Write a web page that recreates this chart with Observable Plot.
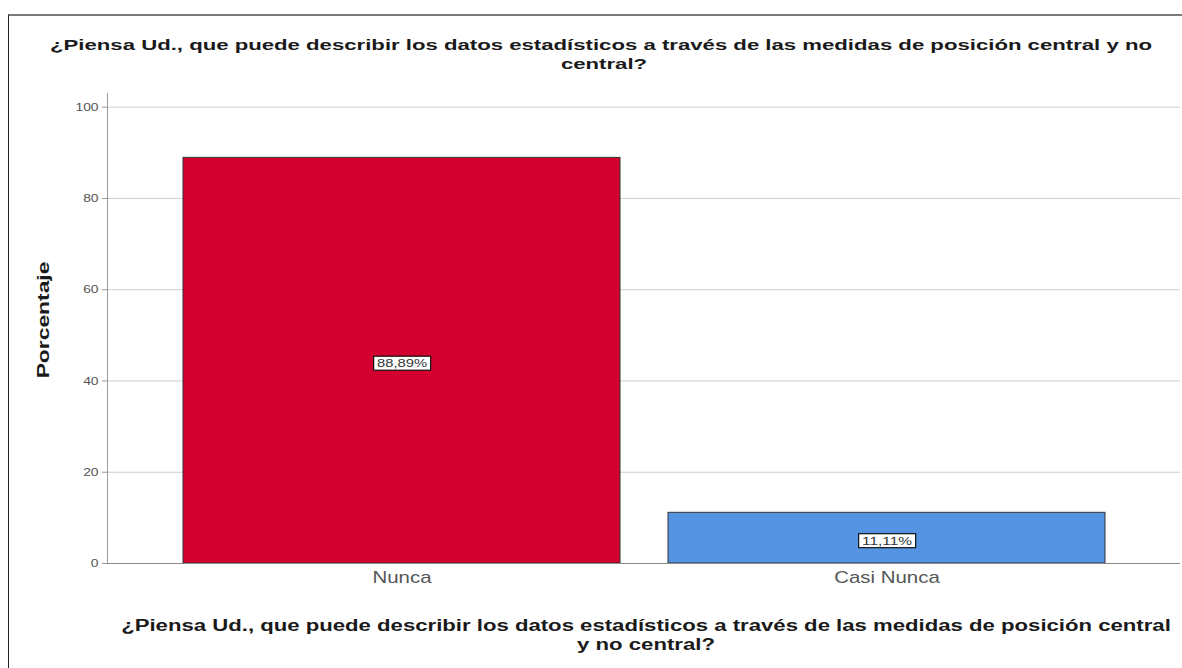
<!DOCTYPE html>
<html>
<head>
<meta charset="utf-8">
<script src="https://cdn.jsdelivr.net/npm/d3@7"></script>
<script src="https://cdn.jsdelivr.net/npm/@observablehq/plot@0.6"></script>
<style>
  html, body { margin: 0; padding: 0; background: #fff; }
  #wrap { position: relative; width: 1182px; height: 668px; overflow: hidden; font-family: "Liberation Sans", Arial, sans-serif; }
  #border { position: absolute; left: 8px; top: 14px; width: 1180px; height: 660px; border-top: 2px solid #7a7a7a; border-left: 1px solid #222; box-sizing: border-box; }
  .t { position: absolute; white-space: nowrap; font-weight: bold; color: #1a1a1a; font-size: 15px; line-height: 18px; transform-origin: center center; }
  #chart { position: absolute; left: 0; top: 0; }
</style>
</head>
<body>
<div id="wrap">
  <div id="border"></div>
  <div id="chart"></div>
</div>
<script>
// ---- data ----
const categories = ["Nunca", "Casi Nunca"];
const percentages = [88.89, 11.11];
const barColors = ["#d3002f", "#5594e2"];
const yTicks = [0, 20, 40, 60, 80, 100];
const titleLines = ["¿Piensa Ud., que puede describir los datos estadísticos a través de las medidas de posición central y no", "central?"];
const xTitleLines = ["¿Piensa Ud., que puede describir los datos estadísticos a través de las medidas de posición central", "y no central?"];
const yTitle = "Porcentaje";

const rows = categories.map((c, i) => ({
  cat: c,
  value: percentages[i],
  color: barColors[i],
  label: percentages[i].toFixed(2).replace(".", ",") + "%"
}));
const labelSet = new Set(rows.map(r => r.label));

const font = '"Liberation Sans", Arial, sans-serif';

const chart = Plot.plot({
  width: 1182,
  height: 668,
  marginLeft: 107,
  marginRight: 2,
  marginTop: 93,
  marginBottom: 105,
  style: { fontFamily: font, background: "transparent", overflow: "visible" },
  x: { domain: categories, paddingInner: 0.1, paddingOuter: 0.155, label: null },
  y: { domain: [0, 103], label: null },
  marks: [
    Plot.gridY(yTicks, { stroke: "#cfcfcf", strokeOpacity: 1 }),
    Plot.frame({ anchor: "left", stroke: "#999" }),
    Plot.barY(rows, { x: "cat", y: "value", fill: "color", stroke: "#333", strokeWidth: 1 }),
    Plot.ruleY([0], { stroke: "#8a8a8a" }),
    Plot.axisY({ ticks: yTicks, tickSize: 5, tickPadding: 4, fontSize: 11.5, color: "#555", stroke: "#999", label: null }),
    Plot.axisX({ tickSize: 0, tickPadding: 7, fontSize: 17, color: "#555", label: null }),
    Plot.text(rows, { x: "cat", y: d => d.value / 2, text: "label", fontSize: 11, fill: "#333", dy: 3 })
  ]
});
document.getElementById("chart").appendChild(chart);

function stretchSvg(el, factor, target) {
  const L = el.getComputedTextLength();
  const T = target || L * factor;
  el.setAttribute("textLength", T);
  el.setAttribute("lengthAdjust", "spacingAndGlyphs");
  return T;
}
const svg = d3.select(chart);
svg.selectAll('g[aria-label="y-axis tick label"] text').each(function() { stretchSvg(this, 1.2); });
svg.selectAll('g[aria-label="x-axis tick label"] text').each(function() { stretchSvg(this, 1.2); });
svg.selectAll("text").filter(function() { return labelSet.has(this.textContent); }).each(function() {
  const w = stretchSvg(this, null, 50);
  const b = this.getBBox();
  const cx = b.x + b.width / 2;
  const tr = this.getAttribute("transform");
  const rect = document.createElementNS("http://www.w3.org/2000/svg", "rect");
  rect.setAttribute("x", cx - w / 2 - 3.5);
  rect.setAttribute("y", b.y - 1);
  rect.setAttribute("width", w + 7);
  rect.setAttribute("height", b.height + 2);
  rect.setAttribute("fill", "#fff");
  rect.setAttribute("stroke", "#111");
  rect.setAttribute("stroke-width", 1.2);
  if (tr) rect.setAttribute("transform", tr);
  this.parentNode.insertBefore(rect, this);
});

// titles (HTML, stretched to match the reference widths)
const wrap = document.getElementById("wrap");
function addTitle(text, cx, baseline, size, targetW, factor) {
  const d = document.createElement("div");
  d.className = "t";
  d.textContent = text;
  d.style.fontSize = size + "px";
  d.style.lineHeight = size + "px";
  wrap.appendChild(d);
  const w = d.offsetWidth;
  const s = targetW ? targetW / w : factor;
  d.style.left = cx + "px";
  d.style.top = (baseline - size * 0.905) + "px";
  d.style.transform = `translateX(-50%) scaleX(${s})`;
  return s;
}
const s1 = addTitle(titleLines[0], 601, 51, 15.5, 1102);
addTitle(titleLines[1], 604, 70, 15.5, null, s1);
const s2 = addTitle(xTitleLines[0], 645.5, 632, 16, 1049);
addTitle(xTitleLines[1], 645.5, 651, 16, null, s2);

// y-axis title
const yl = document.createElement("div");
yl.className = "t";
yl.textContent = yTitle;
yl.style.fontSize = "16px";
yl.style.lineHeight = "18px";
wrap.appendChild(yl);
const yw = yl.offsetWidth;
yl.style.left = "44px";
yl.style.top = "320px";
yl.style.transform = `translate(-50%, -50%) rotate(-90deg) scaleX(${117 / yw})`;
</script>
</body>
</html>
